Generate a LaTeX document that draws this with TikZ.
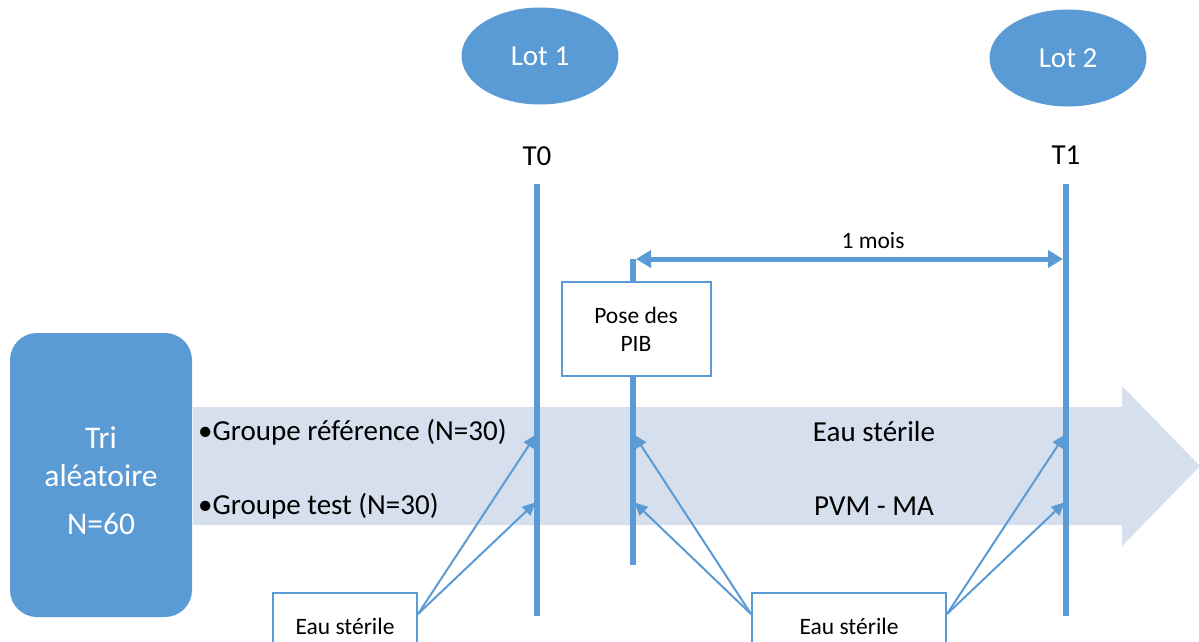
\documentclass[tikz,border=0pt]{standalone}
\usepackage{fontspec}
\setmainfont{Carlito}
\usetikzlibrary{shapes.geometric,arrows.meta}
\definecolor{officeblue}{RGB}{91,155,213}
\definecolor{bandblue}{RGB}{213,223,238}

\begin{document}
\begin{tikzpicture}[x=1pt, y=-1pt,
		lot/.style={ellipse, fill=officeblue, text=white, minimum width=157pt, minimum height=97pt, inner sep=0pt, font=\fontsize{29}{33}\selectfont},
		big/.style={black, inner sep=0pt, font=\fontsize{29}{34}\selectfont},
		small/.style={black, inner sep=0pt, font=\fontsize{23.5}{28}\selectfont},
		boite/.style={small, draw=officeblue, line width=2pt, fill=white, align=center},
		tri/.style={fill=officeblue, text=white, rounded corners=27pt, minimum width=182pt, minimum height=284pt, align=center, font=\fontsize{31.5}{38}\selectfont},
		axe/.style={draw=officeblue, line width=6pt},
		fleche/.style={draw=officeblue, line width=2pt, shorten >=2pt, -{Triangle[length=13pt,width=12pt]}},
		duree/.style={draw=officeblue, line width=5pt, shorten <=3pt, shorten >=3pt, {Triangle[length=15pt,width=17pt]}-{Triangle[length=15pt,width=17pt]}}]
		\useasboundingbox (0,0) rectangle (1199,641);
		\clip (0,0) rectangle (1199,641);
		% bande des groupes
		\fill[bandblue] (193,407) -- (1122,407) -- (1122,386) -- (1200,466) -- (1122,546) -- (1122,525) -- (193,525) -- cycle;
		\node[tri] (tri) at (101,475) {};
		\node[text=white, align=center, font=\fontsize{31.5}{38}\selectfont] (tritxt) at (101,481) {Tri\\aléatoire\\[10pt]N=60};
		\node[big, anchor=west] (gref) at (198,432) {•Groupe référence (N=30)};
		\node[big, anchor=west] (gtest) at (198,506) {•Groupe test (N=30)};
		\node[big] (eauref) at (874,432) {Eau stérile};
		\node[big] (pvm) at (874,506) {PVM - MA};
		% lots et temps
		\node[lot] (lot1) at (540,56) {Lot 1};
		\node[lot] (lot2) at (1068,58) {Lot 2};
		\node[big] (t0) at (537,156) {T0};
		\node[big] (t1) at (1066,155) {T1};
		\coordinate (t0haut) at (537,184);
		\coordinate (t0bas) at (537,616);
		\coordinate (t1haut) at (1066,184);
		\coordinate (t1bas) at (1066,616);
		\coordinate (pibhaut) at (633,259);
		\coordinate (pibbas) at (633,565);
		\draw[axe] (t0haut) -- (t0bas);
		\draw[axe] (t1haut) -- (t1bas);
		\draw[axe] (pibhaut) -- (pibbas);
		\draw[duree] (pibhaut) -- (pibhaut -| t1haut);
		\node[small] (mois) at (873,240) {1 mois};
		\node[boite, minimum width=149pt, minimum height=94pt] (pib) at (636,329) {Pose des\\PIB};
		% eau sterile
		\node[boite, minimum width=144pt, minimum height=66pt] (eau1) at (345,626) {Eau stérile};
		\node[boite, minimum width=194pt, minimum height=66pt] (eau2) at (849,626) {Eau stérile};
		\coordinate (t0ref) at (537,433);
		\coordinate (t0test) at (537,501);
		\coordinate (pibref) at (633,433);
		\coordinate (pibtest) at (633,501);
		\coordinate (t1ref) at (1066,433);
		\coordinate (t1test) at (1066,501);
		\draw[fleche] ([yshift=12pt]eau1.east) -- (t0ref);
		\draw[fleche] ([yshift=12pt]eau1.east) -- (t0test);
		\draw[fleche] ([yshift=12pt]eau2.west) -- (pibref);
		\draw[fleche] ([yshift=12pt]eau2.west) -- (pibtest);
		\draw[fleche] ([yshift=12pt]eau2.east) -- (t1ref);
		\draw[fleche] ([yshift=12pt]eau2.east) -- (t1test);
	\end{tikzpicture}
\end{document}
